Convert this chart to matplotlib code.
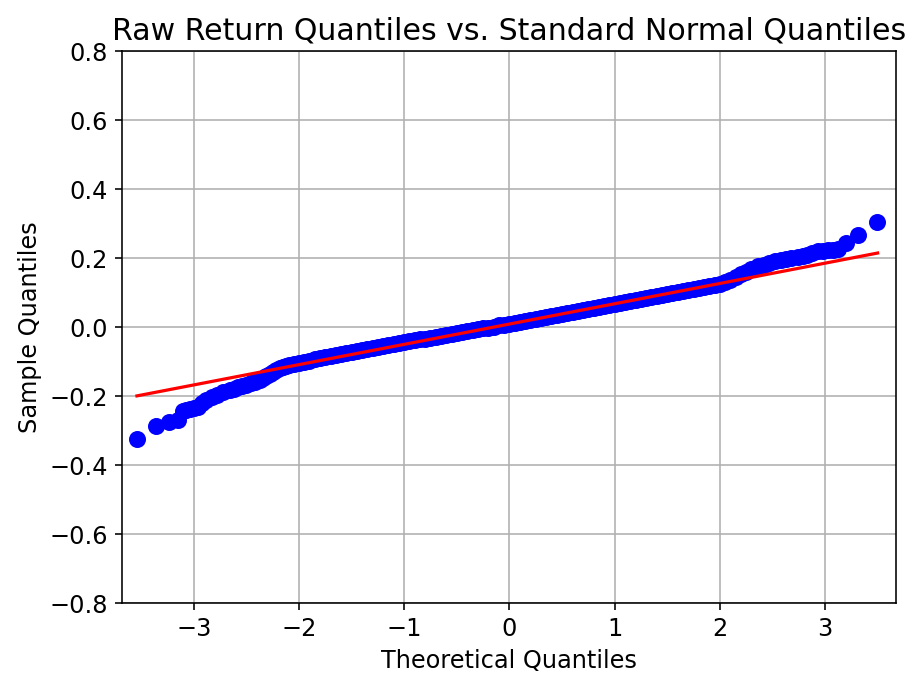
import matplotlib
matplotlib.use("Agg")
import matplotlib.pyplot as plt

# points (theoretical quantile, sample quantile)
theo_left = [-3.54, -3.355, -3.235, -3.15, -3.10, -3.07, -3.04, -3.00, -2.96, -2.92,
             -2.88, -2.83, -2.78, -2.72, -2.66, -2.62, -2.58, -2.54, -2.50, -2.46,
             -2.42, -2.37, -2.34, -2.31, -2.28, -2.25, -2.22, -2.18, -2.15, -2.12,
             -2.09]
samp_left = [-0.326, -0.287, -0.277, -0.270, -0.245, -0.241, -0.238, -0.234, -0.231, -0.222,
             -0.212, -0.204, -0.197, -0.190, -0.183, -0.179, -0.175, -0.172, -0.168, -0.164,
             -0.160, -0.154, -0.148, -0.142, -0.136, -0.130, -0.125, -0.120, -0.116, -0.112,
             -0.110]

theo_mid = [-2.05, -2.00, -1.95, -1.90, -1.85, -1.80, -1.75, -1.70, -1.65, -1.60,
            -1.55, -1.50, -1.45, -1.40, -1.35, -1.30, -1.25, -1.20, -1.15, -1.10,
            -1.05, -1.00, -0.95, -0.90, -0.85, -0.80, -0.75, -0.70, -0.65, -0.60,
            -0.55, -0.50, -0.45, -0.40, -0.35, -0.30, -0.25, -0.20, -0.15, -0.10,
            -0.05, 0.00, 0.05, 0.10, 0.15, 0.20, 0.25, 0.30, 0.35, 0.40,
            0.45, 0.50, 0.55, 0.60, 0.65, 0.70, 0.75, 0.80, 0.85, 0.90,
            0.95, 1.00, 1.05, 1.10, 1.15, 1.20, 1.25, 1.30, 1.35, 1.40,
            1.45, 1.50, 1.55, 1.60, 1.65, 1.70, 1.75, 1.80, 1.85, 1.90,
            1.95, 2.00]
samp_mid = [-0.108, -0.105, -0.101, -0.098, -0.094, -0.091, -0.088, -0.084, -0.081, -0.078,
            -0.075, -0.072, -0.069, -0.066, -0.063, -0.060, -0.058, -0.055, -0.052, -0.049,
            -0.047, -0.044, -0.041, -0.039, -0.036, -0.034, -0.031, -0.028, -0.026, -0.023,
            -0.021, -0.018, -0.015, -0.013, -0.010, -0.007, -0.004, -0.002, 0.001, 0.004,
            0.006, 0.009, 0.012, 0.015, 0.017, 0.020, 0.023, 0.026, 0.029, 0.031,
            0.034, 0.037, 0.040, 0.043, 0.046, 0.049, 0.052, 0.054, 0.057, 0.060,
            0.063, 0.066, 0.069, 0.072, 0.074, 0.077, 0.080, 0.083, 0.086, 0.089,
            0.091, 0.094, 0.097, 0.100, 0.103, 0.106, 0.109, 0.112, 0.115, 0.118,
            0.121, 0.124]

theo_right = [2.05, 2.10, 2.15, 2.20, 2.25, 2.30, 2.36, 2.42, 2.47, 2.52, 2.58, 2.63, 2.68,
              2.74, 2.79, 2.83, 2.88, 2.93, 2.98, 3.03, 3.08, 3.12, 3.20, 3.31, 3.495]
samp_right = [0.129, 0.136, 0.144, 0.153, 0.160, 0.167, 0.175, 0.180, 0.185, 0.190, 0.194, 0.197, 0.199,
              0.202, 0.205, 0.209, 0.214, 0.219, 0.221, 0.223, 0.224, 0.225, 0.243, 0.267, 0.303]

# fitted reference line end points
line_x = [-3.54, 3.50]
line_y = [-0.200, 0.214]

theo = theo_left + theo_mid + theo_right
samp = samp_left + samp_mid + samp_right

fig = plt.figure(figsize=(6.4, 4.8), dpi=144)
ax = fig.add_axes([0.1326, 0.1274, 0.8391, 0.7988])
ax.plot(theo, samp, 'o', color='blue', markersize=7.5, markeredgecolor='blue')
ax.plot(line_x, line_y, '-', color='red', linewidth=1.6)

ax.set_xlim(-3.68, 3.67)
ax.set_ylim(-0.8, 0.8)
ax.set_yticks([-0.8, -0.6, -0.4, -0.2, 0.0, 0.2, 0.4, 0.6, 0.8])
ax.grid(True, color='#b0b0b0', linewidth=0.8)
ax.set_axisbelow(True)
ax.tick_params(labelsize=12)
ax.set_xlabel('Theoretical Quantiles', fontsize=12)
ax.set_ylabel('Sample Quantiles', fontsize=12)
ax.set_title('Raw Return Quantiles vs. Standard Normal Quantiles', fontsize=15)

fig.savefig('out.png', dpi=144)
